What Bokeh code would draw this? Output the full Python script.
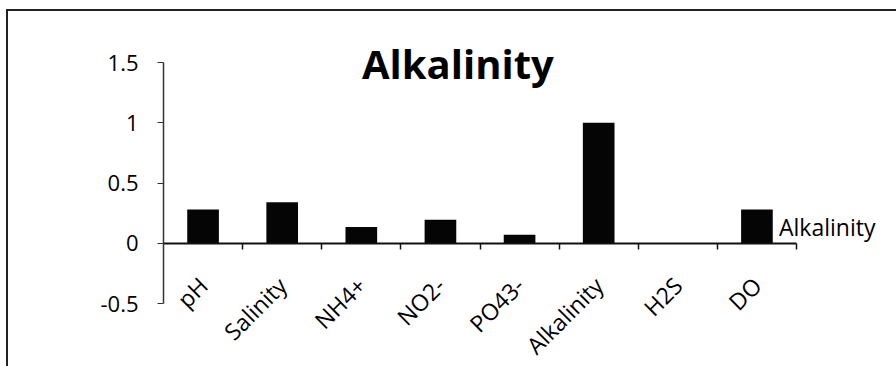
import math

from bokeh.embed import file_html
from bokeh.layouts import column
from bokeh.models import (ColumnDataSource, CustomJSTickFormatter, FixedTicker,
                          Label, Legend, LegendItem, LinearAxis, Range1d)
from bokeh.plotting import figure
from bokeh.resources import INLINE

# Data
categories = ["pH", "Salinity", "NH4+", "NO2-", "PO43-", "Alkalinity", "H2S", "DO"]
values = [0.28, 0.34, 0.135, 0.195, 0.07, 1.0, -0.005, 0.28]
y_ticks = [-0.5, 0, 0.5, 1, 1.5]
series_name = "Alkalinity"
title_text = "Alkalinity"

FONT = "Open Sans"
INK = "#111111"

# canvas geometry (pixels)
W, H = 888, 355
LEFT = 155           # room for the value axis
AXIS_TOP = 51        # where 1.5 sits
AXIS_BOTTOM = 292    # where -0.5 sits
AXIS_RIGHT = 788     # end of the category axis

n = len(categories)
centers = [i + 0.5 for i in range(n)]
source = ColumnDataSource(data=dict(x=centers, cat=categories, val=values))

# the frame spans the whole canvas right of the value axis, so that the
# rotated names, the title and the legend are not clipped
x_per_px = n / (AXIS_RIGHT - LEFT)
y_per_px = (y_ticks[-1] - y_ticks[0]) / (AXIS_BOTTOM - AXIS_TOP)
x_end = (W - LEFT) * x_per_px
y_top = y_ticks[-1] + AXIS_TOP * y_per_px
y_bottom = y_ticks[0] - (H - AXIS_BOTTOM) * y_per_px

p = figure(
    x_range=Range1d(0, x_end),
    y_range=Range1d(y_bottom, y_top),
    width=W, height=H,
    min_border_left=LEFT, min_border_right=0,
    min_border_top=0, min_border_bottom=0,
    x_axis_location=None,
    output_backend="svg", toolbar_location=None,
)
p.grid.visible = False
p.outline_line_color = None
p.background_fill_color = "white"
p.border_fill_color = "white"

bars = p.vbar(x="x", top="val", width=0.4, source=source,
              fill_color="#050505", line_color=None)

# zero line with tick marks between the categories
zero_axis = LinearAxis(
    ticker=FixedTicker(ticks=list(range(1, n + 1))),
    bounds=(0, n),
    fixed_location=0,
    major_tick_in=0, major_tick_out=6,
    major_tick_line_color=INK, major_tick_line_width=1.5,
    minor_tick_line_color=None,
    major_label_text_color=None,
    axis_line_color=INK, axis_line_width=2,
)
p.add_layout(zero_axis, "below")

# category names under the zero line
cat_axis = LinearAxis(
    ticker=FixedTicker(ticks=centers),
    formatter=CustomJSTickFormatter(args=dict(names=categories),
                                    code="return names[Math.floor(tick)];"),
    bounds=(0, n),
    fixed_location=0,
    axis_line_color=None,
    major_tick_line_color=None,
    minor_tick_line_color=None,
    major_label_orientation=math.pi / 4,
    major_label_standoff=32,
    major_label_text_font=FONT,
    major_label_text_font_size="23px",
    major_label_text_color="black",
)
p.add_layout(cat_axis, "below")

# value axis
ya = p.yaxis[0]
ya.ticker = FixedTicker(ticks=y_ticks)
ya.bounds = (y_ticks[0], y_ticks[-1])
ya.formatter = CustomJSTickFormatter(code="return tick.toString();")
ya.minor_tick_line_color = None
ya.major_tick_in = 0
ya.major_tick_out = 6
ya.major_tick_line_color = "#333333"
ya.axis_line_color = "#333333"
ya.axis_line_width = 1.5
ya.major_label_standoff = 19
ya.major_label_text_font = FONT
ya.major_label_text_font_size = "22px"
ya.major_label_text_color = "black"

# chart title
p.add_layout(Label(
    x=3.72, y=1.495, text=title_text,
    text_font=FONT, text_font_style="bold", text_font_size="40px",
    text_align="center", text_baseline="alphabetic", text_color="black",
))

# series legend beside the last bar
legend = Legend(
    items=[LegendItem(label=series_name, renderers=[bars])],
    location=(616, 123),
    glyph_width=0, glyph_height=20, label_standoff=0,
    padding=0, margin=0, spacing=0,
    border_line_color=None, background_fill_alpha=0,
    label_text_font=FONT, label_text_font_size="23px", label_text_color="black",
)
p.add_layout(legend, "center")

page = column(p, styles={
    "margin-left": "6px", "margin-top": "9px",
    "border-top": "2px solid #222", "border-left": "2px solid #222",
})

open("out.html", "w").write(file_html(page, INLINE))
